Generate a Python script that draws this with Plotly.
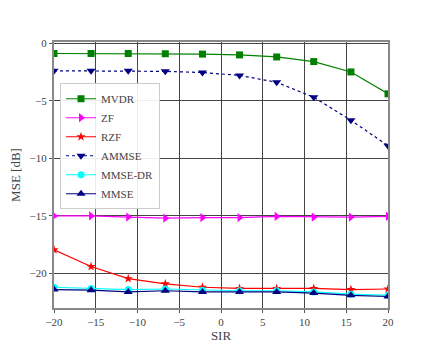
import numpy as np
import plotly.graph_objects as go

# SIR grid (10 points from -20 to 20 dB)
sir = [-20, -15.56, -11.11, -6.67, -2.22, 2.22, 6.67, 11.11, 15.56, 20]

# MSE [dB]
mse_mvdr = [-0.9, -0.9, -0.9, -0.92, -0.95, -1.02, -1.2, -1.6, -2.5, -4.4]
mse_zf = [-15.0, -15.0, -15.1, -15.2, -15.15, -15.15, -15.05, -15.1, -15.1, -15.05]
mse_rzf = [-17.95, -19.4, -20.45, -20.9, -21.2, -21.3, -21.3, -21.3, -21.4, -21.35]
mse_ammse = [-2.4, -2.4, -2.4, -2.45, -2.55, -2.8, -3.4, -4.7, -6.7, -8.9]
mse_mmse_dr = [-21.2, -21.3, -21.4, -21.35, -21.45, -21.5, -21.5, -21.6, -21.8, -21.9]
mse_mmse = [-21.4, -21.45, -21.6, -21.5, -21.6, -21.6, -21.6, -21.7, -21.9, -22.0]

FONT = "Liberation Serif"

fig = go.Figure()
fig.add_trace(go.Scatter(x=sir, y=mse_mvdr, mode='lines+markers', name='MVDR',
                         line=dict(color='green', width=1.2),
                         marker=dict(symbol='square', size=7, color='green')))
fig.add_trace(go.Scatter(x=sir, y=mse_zf, mode='lines+markers', name='ZF',
                         line=dict(color='magenta', width=1.2),
                         marker=dict(symbol='triangle-right', size=8, color='magenta')))
fig.add_trace(go.Scatter(x=sir, y=mse_rzf, mode='lines+markers', name='RZF',
                         line=dict(color='red', width=1.2),
                         marker=dict(symbol='star', size=7, color='red')))
fig.add_trace(go.Scatter(x=sir, y=mse_ammse, mode='lines+markers', name='AMMSE',
                         line=dict(color='navy', width=1.2, dash='dot'),
                         marker=dict(symbol='triangle-down', size=8, color='navy')))
fig.add_trace(go.Scatter(x=sir, y=mse_mmse_dr, mode='lines+markers', name='MMSE-DR',
                         line=dict(color='cyan', width=1.2),
                         marker=dict(symbol='circle', size=7, color='cyan')))
fig.add_trace(go.Scatter(x=sir, y=mse_mmse, mode='lines+markers', name='MMSE',
                         line=dict(color='navy', width=1.2),
                         marker=dict(symbol='triangle-up', size=8, color='navy')))

axis_style = dict(
    showgrid=True, gridcolor='#444444', gridwidth=1,
    showline=True, linecolor='#888888', linewidth=2, mirror=True,
    ticks='outside', ticklen=3, tickcolor='#555555',
    tickfont=dict(family=FONT, size=11, color='#444444'),
    zeroline=False, automargin=False,
)

# page body has an 8px margin, so the figure is drawn 8px in from the corner
fig.update_layout(
    width=424, height=338,
    margin=dict(l=46, r=44, t=34, b=38),
    paper_bgcolor='white', plot_bgcolor='white',
    font=dict(family=FONT, color='#444444'),
    xaxis=dict(range=[-20, 20], dtick=5, title=dict(text='SIR', font=dict(size=13), standoff=2), **axis_style),
    yaxis=dict(range=[-23.0, 0.1], tick0=0, dtick=5, title=dict(text='MSE [dB]', font=dict(size=13), standoff=6), **axis_style),
    legend=dict(x=0.018, y=0.845, xanchor='left', yanchor='top',
                bgcolor='rgba(255,255,255,0.9)', bordercolor='#cccccc', borderwidth=1,
                font=dict(family=FONT, size=11, color='#444444'),
                itemwidth=30, tracegroupgap=0),
    showlegend=True,
)

fig.write_html("out.html")
